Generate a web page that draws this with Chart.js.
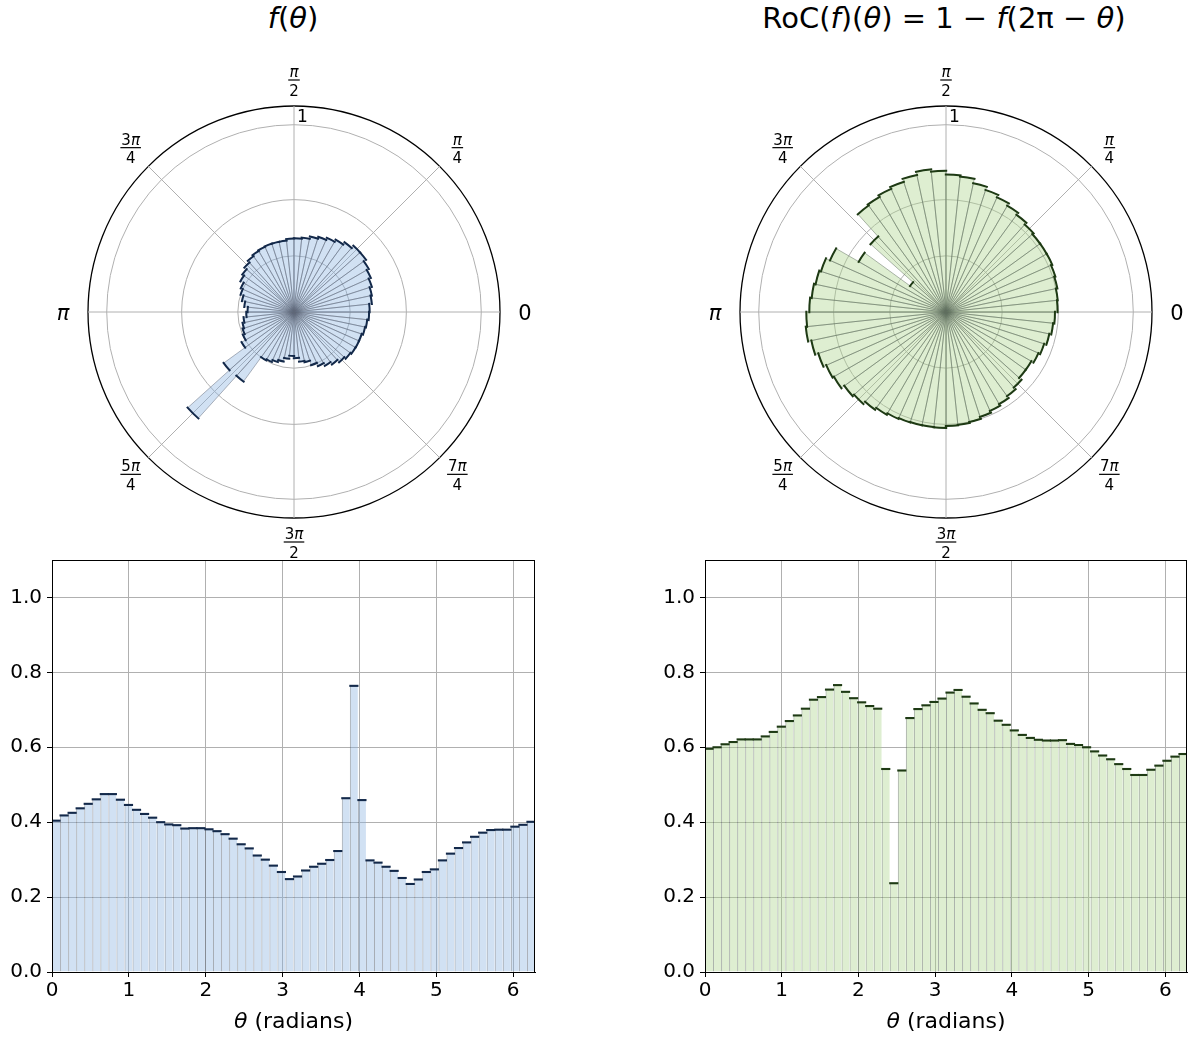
<!DOCTYPE html>
<html>
<head>
<meta charset="utf-8">
<script src="https://cdn.jsdelivr.net/npm/chart.js@4.4.1/dist/chart.umd.min.js"></script>
<style>
  html, body { margin: 0; padding: 0; background: #ffffff; }
  body { width: 1194px; height: 1039px; position: relative; overflow: hidden; font-family: "DejaVu Sans", sans-serif; }
  canvas { position: absolute; }
  .title { position: absolute; top: 0; height: 36px; line-height: 36px; font-size: 29px; white-space: nowrap;
           transform: translateX(-50%); font-family: "DejaVu Sans", sans-serif; color: #000; }
  .title i { font-style: italic; }
</style>
</head>
<body>
<div class="title" style="left:293px;"><i>f</i>(<i>θ</i>)</div>
<div class="title" style="left:944px;">RoC(<i>f</i>)(<i>θ</i>) = 1 − <i>f</i>(2π − <i>θ</i>)</div>

<canvas id="polarL" width="597" height="520" style="left:0px; top:40px;"></canvas>
<canvas id="polarR" width="597" height="520" style="left:597px; top:40px;"></canvas>
<canvas id="histL" width="597" height="499" style="left:0px; top:540px;"></canvas>
<canvas id="histR" width="597" height="499" style="left:597px; top:540px;"></canvas>

<script>
// ---------------- data ----------------
const binCount = 60;
const binWidth = 2 * Math.PI / binCount;
const binCenters = Array.from({ length: binCount }, (_, k) => (k + 0.5) * binWidth);

const fValues = [
  0.404, 0.418, 0.425, 0.437, 0.449, 0.461, 0.475, 0.475, 0.460, 0.446,
  0.433, 0.422, 0.412, 0.400, 0.394, 0.392, 0.383, 0.384, 0.384, 0.381,
  0.376, 0.368, 0.356, 0.341, 0.330, 0.311, 0.300, 0.284, 0.267, 0.248,
  0.255, 0.271, 0.281, 0.289, 0.299, 0.323, 0.464, 0.764, 0.459, 0.298,
  0.292, 0.281, 0.270, 0.251, 0.235, 0.247, 0.267, 0.274, 0.298, 0.316,
  0.331, 0.346, 0.361, 0.372, 0.379, 0.380, 0.380, 0.388, 0.393, 0.401
];

const rocValues = [
  0.596, 0.600, 0.608, 0.614, 0.621, 0.621, 0.621, 0.629, 0.641, 0.655,
  0.670, 0.685, 0.703, 0.727, 0.734, 0.754, 0.766, 0.748, 0.731, 0.720,
  0.710, 0.703, 0.542, 0.237, 0.538, 0.678, 0.702, 0.712, 0.721, 0.730,
  0.746, 0.753, 0.735, 0.717, 0.700, 0.691, 0.671, 0.660, 0.645, 0.633,
  0.625, 0.620, 0.618, 0.618, 0.619, 0.609, 0.606, 0.600, 0.589, 0.578,
  0.568, 0.555, 0.542, 0.526, 0.526, 0.540, 0.551, 0.564, 0.575, 0.582
];

const xTickValues = [0, 1, 2, 3, 4, 5, 6];
const yTickValues = [0, 0.2, 0.4, 0.6, 0.8, 1.0];
const rGridValues = [0, 0.3, 0.6, 1.0, 1.1];
const rLabelValue = 1.0;
const rLabelText = '1';
const thetaTickLabels = [
  ['0'], ['π', '4'], ['π', '2'], ['3π', '4'],
  ['π'], ['5π', '4'], ['3π', '2'], ['7π', '4']
];
const xAxisTitle = ['θ', ' (radians)'];

// ---------------- styles ----------------
const FONT = '"DejaVu Sans", sans-serif';
const styleBlue = {
  fill: 'rgba(139,179,224,0.40)',
  edge: 'rgba(95,105,120,0.55)',
  top: '#13294a'
};
const styleGreen = {
  fill: 'rgba(172,212,140,0.40)',
  edge: 'rgba(95,110,95,0.55)',
  top: '#1e3a14'
};

// text with italic pi (mathtext style), centred at x
function drawMath(ctx, text, x, y, size) {
  const parts = Array.from(text);
  const fontOf = ch => (ch === 'π' ? 'italic ' : '') + size + 'px ' + FONT;
  let total = 0;
  const widths = parts.map(ch => { ctx.font = fontOf(ch); const w = ctx.measureText(ch).width; total += w; return w; });
  let cx = x - total / 2;
  ctx.textAlign = 'left';
  parts.forEach((ch, i) => { ctx.font = fontOf(ch); ctx.fillText(ch, cx, y); cx += widths[i]; });
  return total;
}
function measureMath(ctx, text, size) {
  let total = 0;
  for (const ch of Array.from(text)) {
    ctx.font = (ch === 'π' ? 'italic ' : '') + size + 'px ' + FONT;
    total += ctx.measureText(ch).width;
  }
  return total;
}

// ---------------- polar ----------------
function polarPlugin(st) {
  return {
    id: 'polarDecor',
    beforeDatasetsDraw(chart) {
      const s = chart.scales.r, ctx = chart.ctx;
      const R = s.drawingArea;
      ctx.save();
      ctx.strokeStyle = '#b0b0b0';
      ctx.lineWidth = 1;
      for (let k = 0; k < thetaTickLabels.length; k++) {
        const a = k * Math.PI / 4;
        ctx.beginPath();
        ctx.moveTo(s.xCenter, s.yCenter);
        ctx.lineTo(s.xCenter + R * Math.cos(a), s.yCenter - R * Math.sin(a));
        ctx.stroke();
      }
      ctx.restore();
    },
    afterDatasetsDraw(chart) {
      const ctx = chart.ctx;
      const meta = chart.getDatasetMeta(0);
      ctx.save();
      ctx.strokeStyle = st.top;
      ctx.lineWidth = 2;
      for (const el of meta.data) {
        const p = el.getProps(['x', 'y', 'startAngle', 'endAngle', 'outerRadius'], true);
        if (!(p.outerRadius > 0)) continue;
        const ext = 1.2 / p.outerRadius;
        ctx.beginPath();
        ctx.arc(p.x, p.y, p.outerRadius, p.startAngle - ext, p.endAngle + ext);
        ctx.stroke();
      }
      ctx.restore();
    },
    afterDraw(chart) {
      const s = chart.scales.r, ctx = chart.ctx;
      const cx = s.xCenter, cy = s.yCenter;
      ctx.save();
      ctx.fillStyle = '#000';
      ctx.font = '17px ' + FONT;
      ctx.textAlign = 'left';
      ctx.textBaseline = 'alphabetic';
      ctx.fillText(rLabelText, cx + 3, cy - s.getDistanceFromCenterForValue(rLabelValue) - 3);
      const rl = 231;
      for (let k = 0; k < thetaTickLabels.length; k++) {
        const a = k * Math.PI / 4;
        const lx = cx + rl * Math.cos(a), ly = cy - rl * Math.sin(a);
        const lab = thetaTickLabels[k];
        ctx.textBaseline = 'alphabetic';
        if (lab.length === 1) {
          drawMath(ctx, lab[0], lx, ly + 7.5, 21);
        } else {
          const fs = 15;
          const w = Math.max(measureMath(ctx, lab[0], fs), measureMath(ctx, lab[1], fs)) + 2;
          const bar = ly - 1;
          drawMath(ctx, lab[0], lx, bar - 3, fs);
          drawMath(ctx, lab[1], lx, bar + 15.5, fs);
          ctx.fillRect(lx - w / 2, bar - 0.6, w, 1.2);
        }
      }
      ctx.restore();
    }
  };
}

function makePolar(id, values, st, pad) {
  const ordered = values.slice().reverse();   // Chart.js runs clockwise; theta runs counter-clockwise
  const labels = binCenters.slice().reverse().map(v => v.toFixed(3));
  return new Chart(document.getElementById(id), {
    type: 'polarArea',
    data: {
      labels: labels,
      datasets: [{
        data: ordered,
        backgroundColor: st.fill,
        borderColor: st.edge,
        borderWidth: 0.9,
        borderAlign: 'center'
      }]
    },
    options: {
      responsive: false,
      animation: false,
      devicePixelRatio: 1,
      layout: { padding: pad },
      plugins: { legend: { display: false }, tooltip: { enabled: false } },
      scales: {
        r: {
          min: 0, max: 1.1,
          startAngle: 90,
          afterBuildTicks: s => { s.ticks = rGridValues.map(v => ({ value: v })); },
          ticks: { display: false },
          grid: {
            circular: true,
            color: c => (c.tick && c.tick.value > 1.05) ? '#000000' : '#b0b0b0',
            lineWidth: c => (c.tick && c.tick.value > 1.05) ? 1.3 : 1
          },
          angleLines: { display: false },
          pointLabels: { display: false }
        }
      }
    },
    plugins: [polarPlugin(st)]
  });
}

// ---------------- histogram ----------------
function histPlugin() {
  return {
    id: 'histDecor',
    afterDraw(chart) {
      const ctx = chart.ctx, a = chart.chartArea;
      ctx.save();
      ctx.strokeStyle = '#000';
      ctx.lineWidth = 1;
      ctx.strokeRect(Math.round(a.left) + 0.5, Math.round(a.top) + 0.5,
                     Math.round(a.right - a.left) - 1, Math.round(a.bottom - a.top));
      const fsz = 22;
      ctx.fillStyle = '#000';
      ctx.textBaseline = 'middle';
      ctx.textAlign = 'left';
      ctx.font = 'italic ' + fsz + 'px ' + FONT;
      const w1 = ctx.measureText(xAxisTitle[0]).width;
      ctx.font = fsz + 'px ' + FONT;
      const w2 = ctx.measureText(xAxisTitle[1]).width;
      const x0 = (a.left + a.right) / 2 - (w1 + w2) / 2;
      const y0 = a.bottom + 50;
      ctx.font = 'italic ' + fsz + 'px ' + FONT;
      ctx.fillText(xAxisTitle[0], x0, y0);
      ctx.font = fsz + 'px ' + FONT;
      ctx.fillText(xAxisTitle[1], x0 + w1, y0);
      ctx.restore();
    }
  };
}

function makeHist(id, values, st, pad) {
  const half = 0.0028;
  return new Chart(document.getElementById(id), {
    type: 'bar',
    data: {
      datasets: [
        {
          data: binCenters.map((x, i) => ({ x: x, y: [values[i] - half, values[i] + half] })),
          backgroundColor: st.top,
          borderWidth: 0,
          barPercentage: 1.14,
          categoryPercentage: 1,
          grouped: false,
          inflateAmount: 0,
          order: 0
        },
        {
          data: binCenters.map((x, i) => ({ x: x, y: values[i] })),
          backgroundColor: st.fill,
          borderColor: st.edge,
          borderWidth: { left: 1, right: 0, top: 0, bottom: 0 },
          borderSkipped: false,
          barPercentage: 1,
          categoryPercentage: 1,
          grouped: false,
          inflateAmount: 0,
          order: 1
        }
      ]
    },
    options: {
      responsive: false,
      animation: false,
      devicePixelRatio: 1,
      layout: { padding: pad },
      plugins: { legend: { display: false }, tooltip: { enabled: false } },
      scales: {
        x: {
          type: 'linear',
          min: 0, max: 2 * Math.PI,
          offset: false,
          afterBuildTicks: s => { s.ticks = xTickValues.map(v => ({ value: v })); },
          afterFit: s => { s.height = 67; },
          grid: { offset: false, color: '#b0b0b0', lineWidth: 1, tickColor: '#000', tickLength: 5, drawTicks: true },
          border: { display: true, color: '#000', width: 1 },
          ticks: { color: '#000', font: { family: FONT, size: 20 }, padding: 2, maxRotation: 0,
                   callback: v => String(v) }
        },
        y: {
          min: 0, max: 1.1,
          afterBuildTicks: s => { s.ticks = yTickValues.map(v => ({ value: v })); },
          afterFit: s => { s.width = 52; },
          grid: { color: '#b0b0b0', lineWidth: 1, tickColor: '#000', tickLength: 5, drawTicks: true },
          border: { display: true, color: '#000', width: 1 },
          ticks: { color: '#000', font: { family: FONT, size: 20 }, padding: 5,
                   callback: v => Number(v).toFixed(1) }
        }
      }
    },
    plugins: [histPlugin()]
  });
}

makePolar('polarL', fValues, styleBlue, { left: 88, right: 97, top: 66, bottom: 42 });
makePolar('polarR', rocValues, styleGreen, { left: 143, right: 42, top: 66, bottom: 42 });
makeHist('histL', fValues, styleBlue, { left: 0, right: 62, top: 20, bottom: 0 });
makeHist('histR', rocValues, styleGreen, { left: 56, right: 7, top: 20, bottom: 0 });
</script>
</body>
</html>
